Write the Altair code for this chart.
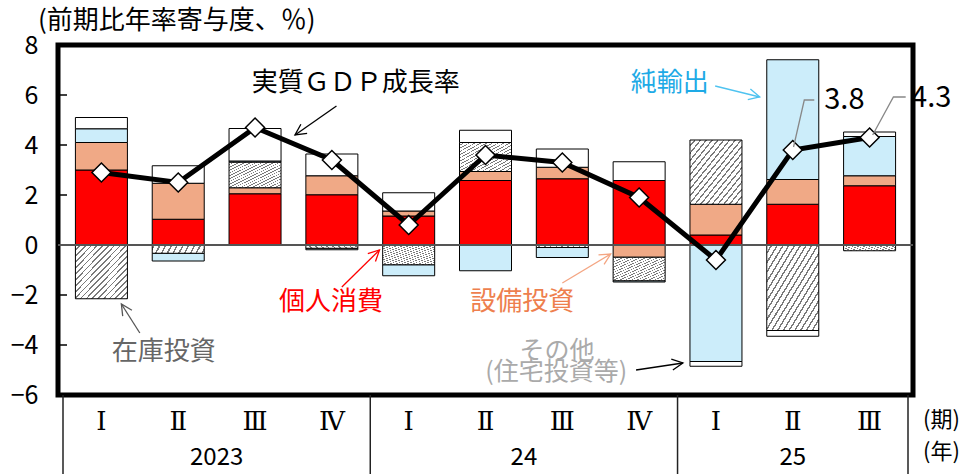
import math
import altair as alt
import pandas as pd

# ---------------- data ----------------
periods = ["2023-1", "2023-2", "2023-3", "2023-4", "2024-1", "2024-2",
           "2024-3", "2024-4", "2025-1", "2025-2", "2025-3"]
quarter_labels = ["Ⅰ", "Ⅱ", "Ⅲ", "Ⅳ", "Ⅰ", "Ⅱ", "Ⅲ", "Ⅳ", "Ⅰ", "Ⅱ", "Ⅲ"]
year_labels = ["2023", "24", "25"]
year_centers = [2.0, 6.0, 9.5]
year_dividers = [0, 4, 8, 11]

gdp = [2.9, 2.5, 4.7, 3.4, 0.8, 3.6, 3.3, 1.9, -0.6, 3.8, 4.3]
consumption = [3.0, 1.03, 2.05, 2.01, 1.16, 2.58, 2.65, 2.58, 0.40, 1.63, 2.37]
business_inv = [1.10, 1.44, 0.24, 0.76, 0.20, 0.36, 0.46, -0.49, 1.23, 0.99, 0.40]
inventories = [-2.15, -0.33, 1.02, -0.13, -0.79, 1.16, -0.10, -0.94, 2.57, -3.42, -0.23]
net_exports = [0.55, -0.31, 0.05, -0.06, -0.44, -1.03, -0.40, -0.05, -4.66, 4.79, 1.57]
others = [0.45, 0.70, 1.30, 0.87, 0.73, 0.49, 0.73, 0.75, -0.19, -0.23, 0.18]

components = ["個人消費", "設備投資", "在庫投資", "純輸出", "その他"]
series = [consumption, business_inv, inventories, net_exports, others]
fill_colors = ["#FF0000", "#F0A986", "#D2D2D2", "#CCEDFA", "#FFFFFF"]

FONT = "Noto Sans CJK JP"
ROMAN_FONT = "DejaVu Serif"
W, H = 855, 350
PX_X = W / 11.0
PX_Y = H / 14.0

rows = []
for k, (name, vals) in enumerate(zip(components, series)):
    for i, v in enumerate(vals):
        if v != 0:
            rows.append({"pos": i + 0.5, "value": v, "comp": name, "ord": k})
bars_df = pd.DataFrame(rows)

gdp_df = pd.DataFrame({"pos": [i + 0.5 for i in range(len(gdp))], "gdp": gdp})

xscale = alt.Scale(domain=[0, 11], nice=False, zero=False)
yscale = alt.Scale(domain=[-6, 8], nice=False, zero=False)

stacked = alt.Chart(bars_df).transform_stack(
    stack="value", groupby=["pos"], as_=["v0", "v1"],
    sort=[alt.SortField("ord", order="ascending")], offset="zero",
)

bars = stacked.transform_filter(alt.datum.comp != "在庫投資").mark_bar(
    size=52, stroke="black", strokeWidth=1
).encode(
    x=alt.X("pos:Q", scale=xscale, axis=None),
    y=alt.Y("v0:Q", scale=yscale,
            axis=alt.Axis(values=[-6, -4, -2, 0, 2, 4, 6, 8], ticks=False, domain=False,
                          grid=False, labelFontSize=25, labelFont=FONT, labelColor="black",
                          labelPadding=20, labelFlush=False, title=None)),
    y2="v1:Q",
    color=alt.Color("comp:N", scale=alt.Scale(domain=components, range=fill_colors), legend=None),
)

# diagonal hatch for inventories (striped gradient)
N = 18
stops = []
for j in range(N):
    a = j / N
    b = (j + 0.72) / N
    c = (j + 1) / N
    stops += [alt.GradientStop(offset=a, color="#FFFFFF"),
              alt.GradientStop(offset=b, color="#FFFFFF"),
              alt.GradientStop(offset=b, color="#7A7A7A"),
              alt.GradientStop(offset=c, color="#7A7A7A")]
hatch = alt.LinearGradient(gradient="linear", stops=stops, x1=0, y1=0, x2=1, y2=1)

inv_bars = stacked.transform_filter(alt.datum.comp == "在庫投資").mark_bar(
    size=52, stroke="black", strokeWidth=1, fill=hatch
).encode(
    x=alt.X("pos:Q", scale=xscale, axis=None),
    y=alt.Y("v0:Q", scale=yscale),
    y2="v1:Q",
)

zero_line = alt.Chart(pd.DataFrame({"y": [0]})).mark_rule(color="#555555", strokeWidth=2).encode(
    y=alt.Y("y:Q", scale=yscale)
)

tick_df = pd.DataFrame({"y": [-4, -2, 2, 4, 6]})
yticks = alt.Chart(tick_df).mark_rule(color="black", strokeWidth=1.5).encode(
    y=alt.Y("y:Q", scale=yscale), x=alt.value(0), x2=alt.value(9)
)

line = alt.Chart(gdp_df).mark_line(color="black", strokeWidth=5).encode(
    x=alt.X("pos:Q", scale=xscale), y=alt.Y("gdp:Q", scale=yscale)
)
points = alt.Chart(gdp_df).mark_point(shape="diamond", filled=True, fill="white", stroke="black",
                                      strokeWidth=1.5, size=360, opacity=1).encode(
    x=alt.X("pos:Q", scale=xscale), y=alt.Y("gdp:Q", scale=yscale)
)

# ---------------- annotations (chart units: x = slot, y = %) ----------------
texts = [
    # x, y, text, color, size, align
    (3.81, 6.48, "実質ＧＤＰ成長率", "#000000", 26, "center"),
    (7.90, 6.48, "純輸出", "#1EAAE6", 26, "center"),
    (9.91, 5.80, "3.8", "#000000", 29, "left"),
    (11.04, 5.88, "4.3", "#000000", 29, "left"),
    (3.49, -2.28, "個人消費", "#FF0000", 26, "center"),
    (5.98, -2.28, "設備投資", "#EE7F4E", 26, "center"),
    (1.31, -4.28, "在庫投資", "#666666", 26, "center"),
    (6.43, -4.22, "その他", "#AAAAAA", 25, "center"),
    (6.42, -5.08, "(住宅投資等)", "#AAAAAA", 25, "center"),
]
text_df = pd.DataFrame(texts, columns=["x", "y", "text", "col", "fs", "align"])

def text_layer(align):
    d = text_df[text_df["align"] == align]
    return alt.Chart(d).mark_text(font=FONT, align=align, baseline="middle").encode(
        x=alt.X("x:Q", scale=xscale), y=alt.Y("y:Q", scale=yscale), text="text:N",
        color=alt.Color("col:N", scale=None), size=alt.Size("fs:Q", scale=None)
    )

arrows = [
    # x1, y1, x2(tip), y2(tip), color
    (3.56, 5.56, 3.02, 4.40, "#000000"),
    (8.49, 6.36, 9.07, 5.92, "#4FC3F0"),
    (3.63, -1.68, 4.12, -0.20, "#FF0000"),
    (6.50, -1.52, 7.13, -0.36, "#F4A582"),
    (1.00, -3.52, 0.76, -2.36, "#555555"),
    (7.46, -5.00, 8.07, -4.72, "#000000"),
]
arr_rows = []
for x1, y1, x2, y2, c in arrows:
    ang = math.degrees(math.atan2(-(y2 - y1) * PX_Y, (x2 - x1) * PX_X)) % 360
    arr_rows.append({"x1": x1, "y1": y1, "x2": x2, "y2": y2, "col": c, "ang": ang})
arr_df = pd.DataFrame(arr_rows)

arrow_lines = alt.Chart(arr_df).mark_rule(strokeWidth=1.3).encode(
    x=alt.X("x1:Q", scale=xscale), y=alt.Y("y1:Q", scale=yscale),
    x2="x2:Q", y2="y2:Q", color=alt.Color("col:N", scale=None)
)
arrow_heads = alt.Chart(arr_df).mark_point(shape="M-1,-0.5L0,0L-1,0.5", filled=False,
                                           strokeWidth=1.3, size=480, opacity=1).encode(
    x=alt.X("x2:Q", scale=xscale), y=alt.Y("y2:Q", scale=yscale),
    color=alt.Color("col:N", scale=None), angle=alt.Angle("ang:Q", scale=None)
)

leaders = pd.DataFrame([
    {"id": "a", "s": 0, "x": 9.51, "y": 3.92},
    {"id": "a", "s": 1, "x": 9.65, "y": 5.80},
    {"id": "a", "s": 2, "x": 9.78, "y": 5.80},
    {"id": "b", "s": 0, "x": 10.54, "y": 4.40},
    {"id": "b", "s": 1, "x": 10.81, "y": 5.92},
    {"id": "b", "s": 2, "x": 10.97, "y": 5.92},
])
leader_lines = alt.Chart(leaders).mark_line(color="#888888", strokeWidth=1.3).encode(
    x=alt.X("x:Q", scale=xscale), y=alt.Y("y:Q", scale=yscale), detail="id:N", order="s:Q"
)

# ---------------- category axis (below the frame) ----------------
q_df = pd.DataFrame({"pos": [i + 0.5 for i in range(len(quarter_labels))], "q": quarter_labels})
q_text = alt.Chart(q_df).mark_text(font=ROMAN_FONT, fontSize=26, baseline="middle",
                                   color="black").encode(
    x=alt.X("pos:Q", scale=xscale), y=alt.value(H + 27), text="q:N"
)
y_df = pd.DataFrame({"pos": year_centers, "yr": year_labels})
yr_text = alt.Chart(y_df).mark_text(font=FONT, fontSize=24, baseline="middle", color="black").encode(
    x=alt.X("pos:Q", scale=xscale), y=alt.value(H + 63), text="yr:N"
)
div_df = pd.DataFrame({"pos": year_dividers})
dividers = alt.Chart(div_df).mark_rule(color="#222222", strokeWidth=1.5).encode(
    x=alt.X("pos:Q", scale=xscale), y=alt.value(H), y2=alt.value(H + 80)
)

unit_df = pd.DataFrame({"t": ["(期)", "(年)"], "yy": [H + 25, H + 57]})
unit_text = alt.Chart(unit_df).mark_text(font=FONT, fontSize=22, align="left", baseline="middle",
                                         color="black").encode(
    x=alt.value(W + 10), y=alt.Y("yy:Q", scale=None), text="t:N"
)

title_df = pd.DataFrame({"t": ["(前期比年率寄与度、％)"]})
title_text = alt.Chart(title_df).mark_text(font=FONT, fontSize=26, align="left", baseline="middle",
                                           color="black").encode(
    x=alt.value(-20), y=alt.value(-24), text="t:N"
)

chart = alt.layer(
    bars, inv_bars, zero_line, yticks, line, points,
    arrow_lines, arrow_heads, leader_lines,
    text_layer("center"), text_layer("left"),
    q_text, yr_text, dividers, unit_text, title_text,
).properties(
    width=W, height=H,
    padding={"left": 58, "top": 45, "right": 46, "bottom": 79},
    autosize=alt.AutoSizeParams(type="none"),
    background="white",
).configure_view(stroke="black", strokeWidth=5)

chart.save("out.html", embed_options={"renderer": "svg", "actions": False})
